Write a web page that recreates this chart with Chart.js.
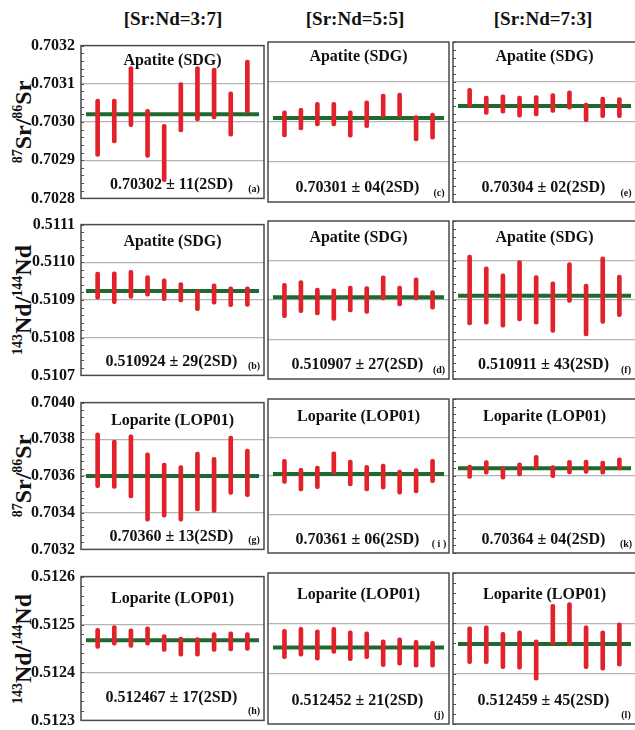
<!DOCTYPE html>
<html>
<head>
<meta charset="utf-8">
<script src="https://cdn.jsdelivr.net/npm/chart.js@4"></script>
<style>
body { margin: 0; background: #fff; }
#fig { position: relative; width: 635px; height: 730px; overflow: hidden;
  font-family: "Liberation Serif", "Times New Roman", serif; font-weight: bold; color: #111; }
#fig canvas { position: absolute; }
.head { position: absolute; top: 8px; font-size: 19px; white-space: nowrap; transform: translateX(-50%); }
.ytitle { position: absolute; left: 23px; font-size: 24px; white-space: nowrap;
  transform: translate(-50%, -50%) rotate(-90deg); }
.ytitle sup { font-size: 14px; vertical-align: 9px; line-height: 0; }
</style>
</head>
<body>
<div id="fig"></div>
<script>
// column headers and y titles
var columnHeads = ['[Sr:Nd=3:7]', '[Sr:Nd=5:5]', '[Sr:Nd=7:3]'];
var rowTitles = ['<sup>87</sup>Sr/<sup>86</sup>Sr', '<sup>143</sup>Nd/<sup>144</sup>Nd',
                 '<sup>87</sup>Sr/<sup>86</sup>Sr', '<sup>143</sup>Nd/<sup>144</sup>Nd'];

// y axis range per row: min, max, labelled step
var axisMin = [0.7028, 0.5107, 0.7032, 0.5123];
var axisMax = [0.7032, 0.5111, 0.7040, 0.5126];
var axisStep = [0.0001, 0.0001, 0.0002, 0.0001];

// (a) Apatite Sr 3:7
var lowA  = [0.70291, 0.702945, 0.702988, 0.702907, 0.702844, 0.702974, 0.703003, 0.703008, 0.702963, 0.703024];
var highA = [0.70306, 0.70306, 0.703145, 0.703033, 0.702994, 0.703103, 0.703145, 0.703141, 0.703079, 0.703162];
// (c) Apatite Sr 5:5
var lowC  = [0.702963, 0.70298, 0.70299, 0.70299, 0.702962, 0.702986, 0.703012, 0.703012, 0.702953, 0.702957];
var highC = [0.703028, 0.703034, 0.703049, 0.703049, 0.703028, 0.703053, 0.70307, 0.703072, 0.703016, 0.703022];
// (e) Apatite Sr 7:3
var lowE  = [0.703037, 0.703019, 0.703022, 0.703012, 0.703015, 0.703024, 0.703032, 0.703001, 0.703011, 0.703011];
var highE = [0.703084, 0.703065, 0.703068, 0.703065, 0.703066, 0.703071, 0.703078, 0.703047, 0.703062, 0.703061];
// (b) Apatite Nd 3:7
var lowB  = [0.510902, 0.51089, 0.510904, 0.51091, 0.510898, 0.510895, 0.510872, 0.510889, 0.510882, 0.510883];
var highB = [0.510974, 0.510975, 0.510979, 0.510965, 0.510956, 0.510946, 0.510927, 0.510943, 0.510935, 0.510935];
// (d) Apatite Nd 5:5
var lowD  = [0.510855, 0.510868, 0.510862, 0.510848, 0.51087, 0.510866, 0.5109, 0.510885, 0.5109, 0.510877];
var highD = [0.510942, 0.510949, 0.51093, 0.510928, 0.510935, 0.510934, 0.510961, 0.510935, 0.510956, 0.510924];
// (f) Apatite Nd 7:3
var lowF  = [0.510837, 0.510839, 0.510831, 0.510847, 0.510839, 0.510818, 0.510894, 0.510809, 0.510841, 0.510858];
var highF = [0.511014, 0.510984, 0.510966, 0.5110, 0.510962, 0.510946, 0.510995, 0.51094, 0.511009, 0.510963];
// (g) Loparite Sr 3:7
var lowG  = [0.703536, 0.703532, 0.70348, 0.703354, 0.703375, 0.703354, 0.70341, 0.703401, 0.7035, 0.703487];
var highG = [0.703835, 0.703796, 0.703825, 0.703726, 0.703671, 0.703657, 0.70373, 0.703702, 0.703817, 0.703747];
// (i) Loparite Sr 5:5
var lowI  = [0.703562, 0.703522, 0.703534, 0.703609, 0.703548, 0.703523, 0.703532, 0.703505, 0.703512, 0.703566];
var highI = [0.703687, 0.70364, 0.703652, 0.703726, 0.703683, 0.703655, 0.703662, 0.703631, 0.703638, 0.703687];
// (k) Loparite Sr 7:3
var lowK  = [0.703588, 0.703609, 0.703584, 0.7036, 0.70364, 0.703591, 0.703611, 0.703614, 0.703609, 0.703631];
var highK = [0.703657, 0.70368, 0.703648, 0.703669, 0.703707, 0.703654, 0.703682, 0.703683, 0.703678, 0.703695];
// (h) Loparite Nd 3:7
var lowH  = [0.51245, 0.512457, 0.512452, 0.512457, 0.512444, 0.512434, 0.512434, 0.512444, 0.512445, 0.512446];
var highH = [0.512492, 0.512498, 0.512491, 0.512495, 0.512479, 0.512474, 0.512473, 0.512483, 0.512485, 0.512483];
// (j) Loparite Nd 5:5
var lowJ  = [0.51243, 0.512435, 0.512427, 0.51244, 0.512426, 0.51243, 0.512414, 0.512417, 0.512413, 0.512413];
var highJ = [0.512488, 0.512492, 0.512487, 0.512492, 0.512485, 0.512483, 0.512467, 0.512471, 0.512466, 0.512464];
// (l) Loparite Nd 7:3
var lowL  = [0.51242, 0.51242, 0.51241, 0.512409, 0.512387, 0.512457, 0.512455, 0.51241, 0.512407, 0.512415];
var highL = [0.512493, 0.512495, 0.512482, 0.512485, 0.512467, 0.512538, 0.512541, 0.512495, 0.512485, 0.512501];

// mean values (green lines), order a c e b d f g i k h j l
var means = [0.70302, 0.70301, 0.70304, 0.510924, 0.510907, 0.510911,
             0.70360, 0.70361, 0.70364, 0.512467, 0.512452, 0.512459];
var results = ['0.70302 ± 11(2SD)', '0.70301 ± 04(2SD)', '0.70304 ± 02(2SD)',
               '0.510924 ± 29(2SD)', '0.510907 ± 27(2SD)', '0.510911 ± 43(2SD)',
               '0.70360 ± 13(2SD)', '0.70361 ± 06(2SD)', '0.70364 ± 04(2SD)',
               '0.512467 ± 17(2SD)', '0.512452 ± 21(2SD)', '0.512459 ± 45(2SD)'];
var tags = ['(a)', '(c)', '(e)', '(b)', '(d)', '(f)', '(g)', '( i )', '(k)', '(h)', '(j)', '(l)'];
var samples = ['Apatite (SDG)', 'Loparite (LOP01)'];

var lows = [lowA, lowC, lowE, lowB, lowD, lowF, lowG, lowI, lowK, lowH, lowJ, lowL];
var highs = [highA, highC, highE, highB, highD, highF, highG, highI, highK, highH, highJ, highL];

// page layout of plot boxes
var colEdges = [[81, 264], [268, 449], [453, 636]];
var rowEdges = [[42, 202], [221, 379], [399, 553], [573, 724]];
var colCenters = [173, 355, 543];
var titleOffsets = [15, 17, 18, 22];
var footOffsets = [14, 14, 13, 23];

var fig = document.getElementById('fig');

columnHeads.forEach(function (t, c) {
    var d = document.createElement('div');
    d.className = 'head';
    d.style.left = colCenters[c] + 'px';
    d.textContent = t;
    fig.appendChild(d);
});

rowTitles.forEach(function (t, r) {
    var d = document.createElement('div');
    d.className = 'ytitle';
    d.style.top = ((rowEdges[r][0] + rowEdges[r][1]) / 2) + 'px';
    d.innerHTML = t;
    fig.appendChild(d);
});

function isMajor(v, r) {
    var k = (v - axisMin[r]) / axisStep[r];
    return Math.abs(k - Math.round(k)) < 1e-6;
}

function makePanel(i) {
    var r = Math.floor(i / 3), c = i % 3;
    var cx = colEdges[c], ry = rowEdges[r];
    var left = c === 0 ? 0 : cx[0] - 4;
    var top = ry[0] - 12;
    var w = cx[1] + 4 - left, h = ry[1] - ry[0] + 24;

    var canvas = document.createElement('canvas');
    canvas.width = w;
    canvas.height = h;
    canvas.style.left = left + 'px';
    canvas.style.top = top + 'px';
    canvas.style.width = w + 'px';
    canvas.style.height = h + 'px';
    fig.appendChild(canvas);

    var decor = {
        id: 'decor' + i,
        afterDraw: function (chart) {
            var a = chart.chartArea, ctx = chart.ctx, ys = chart.scales.y;
            ctx.save();
            // minor ticks inside left edge
            if (c !== 1) {
                ctx.strokeStyle = '#555';
                ctx.lineWidth = 1;
                ys.ticks.forEach(function (t) {
                    var y = Math.round(ys.getPixelForValue(t.value)) + 0.5;
                    ctx.beginPath();
                    ctx.moveTo(a.left, y);
                    ctx.lineTo(a.left + 3, y);
                    ctx.stroke();
                });
            }
            ctx.strokeStyle = '#4a4a4a';
            ctx.lineWidth = 1.5;
            ctx.strokeRect(a.left, a.top, a.right - a.left, a.bottom - a.top);

            ctx.fillStyle = '#111';
            ctx.textAlign = 'center';
            ctx.textBaseline = 'middle';
            var mid = (a.left + a.right) / 2;
            ctx.font = 'bold 16px "Liberation Serif"';
            ctx.fillText(samples[r < 2 ? 0 : 1], mid, a.top + titleOffsets[r]);
            ctx.fillText(results[i], mid - 1, a.bottom - footOffsets[r]);
            ctx.font = 'bold 10px "Liberation Serif"';
            ctx.fillText(tags[i], a.right - 10, a.bottom - 9);
            ctx.restore();
        }
    };

    new Chart(canvas, {
        type: 'bar',
        data: {
            datasets: [{
                type: 'bar',
                data: lows[i].map(function (lo, k) { return { x: k + 1, y: [lo, highs[i][k]] }; }),
                backgroundColor: '#e2222b',
                barThickness: 4,
                borderRadius: 2,
                borderSkipped: false
            }, {
                type: 'line',
                data: [{ x: 0.3, y: means[i] }, { x: 10.7, y: means[i] }],
                borderColor: '#1c6a2e',
                borderWidth: 4,
                pointRadius: 0
            }]
        },
        options: {
            responsive: false,
            animation: false,
            events: [],
            layout: { padding: { top: 12, bottom: 12, left: c === 0 ? 0 : 4, right: 4 } },
            plugins: {
                legend: { display: false },
                tooltip: { enabled: false }
            },
            scales: {
                x: { type: 'linear', min: 0, max: 11, offset: false, display: false },
                y: {
                    min: axisMin[r],
                    max: axisMax[r],
                    afterBuildTicks: function (scale) {
                        var ticks = [];
                        var n = Math.round((axisMax[r] - axisMin[r]) / (axisStep[r] / 5));
                        for (var k = 0; k <= n; k++) {
                            ticks.push({ value: axisMin[r] + k * axisStep[r] / 5 });
                        }
                        scale.ticks = ticks;
                    },
                    afterFit: function (scale) { scale.width = c === 0 ? 81 : 0; },
                    border: { display: false },
                    grid: {
                        drawTicks: false,
                        lineWidth: 1.2,
                        color: function (ctx) {
                            var v = ctx.tick ? ctx.tick.value : null;
                            if (v === null || !isMajor(v, r)) return 'rgba(0,0,0,0)';
                            if (Math.abs(v - axisMin[r]) < 1e-9 || Math.abs(v - axisMax[r]) < 1e-9) return 'rgba(0,0,0,0)';
                            return '#b4b4b4';
                        }
                    },
                    ticks: {
                        display: c === 0,
                        autoSkip: false,
                        padding: 6,
                        color: '#111',
                        font: { family: '"Liberation Serif"', size: 16, weight: 'bold' },
                        callback: function (v) { return isMajor(v, r) ? v.toFixed(4) : ''; }
                    }
                }
            }
        },
        plugins: [decor]
    });
}

for (var i = 0; i < 12; i++) makePanel(i);
</script>
</body>
</html>
